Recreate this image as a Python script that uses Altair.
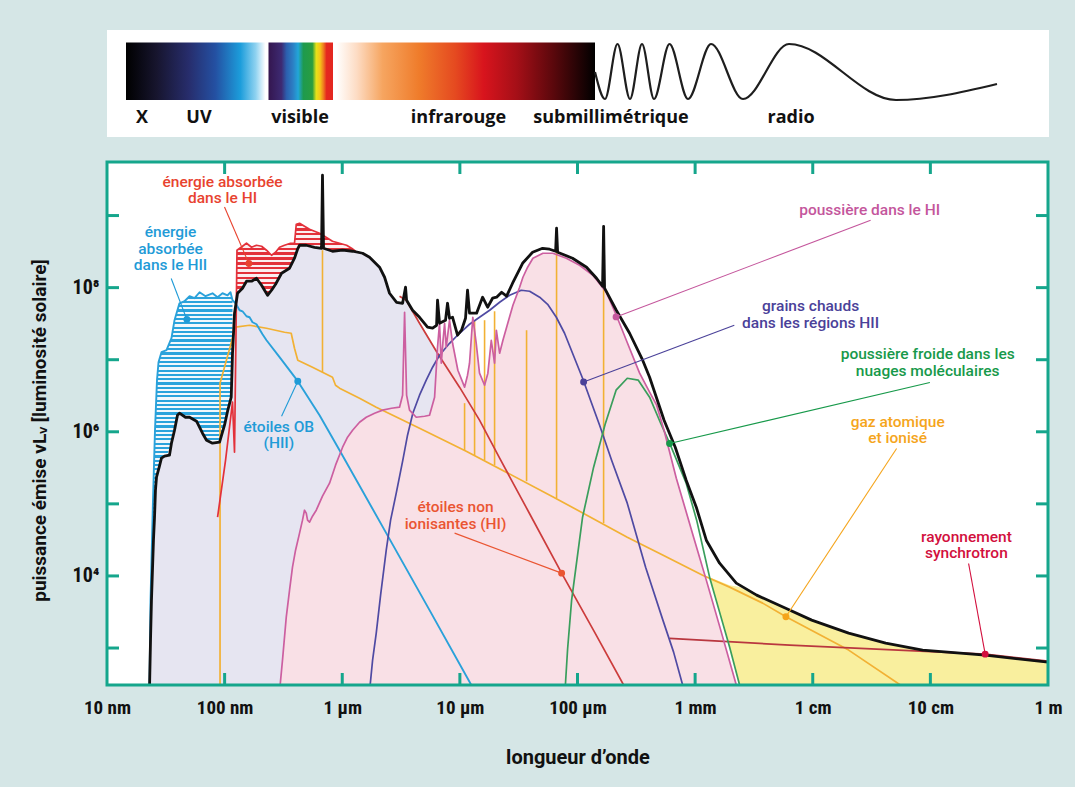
import altair as alt
import numpy as np
import pandas as pd

# ---------------------------------------------------------------------------
# DATA  (pairs: log10 wavelength [m], log10 emitted power nuL_nu [L_sun])
# ---------------------------------------------------------------------------
total = [(-7.639, 2.40), (-7.630, 3.110), (-7.622, 3.664), (-7.605, 4.496), (-7.596, 4.815),
         (-7.588, 5.190), (-7.579, 5.370), (-7.554, 5.523), (-7.537, 5.634), (-7.511, 5.662),
         (-7.469, 5.675), (-7.452, 5.842), (-7.426, 6.022), (-7.401, 6.230), (-7.384, 6.258),
         (-7.333, 6.202), (-7.298, 6.202), (-7.239, 6.147), (-7.188, 5.980), (-7.154, 5.883),
         (-7.103, 5.842), (-7.043, 5.856), (-7.001, 6.091), (-6.975, 6.286), (-6.944, 6.480),
         (-6.933, 7.090), (-6.916, 7.645), (-6.890, 7.922), (-6.848, 7.992), (-6.814, 8.089),
         (-6.771, 8.089), (-6.729, 8.130), (-6.686, 8.033), (-6.635, 7.894), (-6.601, 7.964),
         (-6.567, 8.047), (-6.516, 8.200), (-6.448, 8.269), (-6.406, 8.408), (-6.380, 8.533),
         (-6.363, 8.588), (-6.306, 8.588), (-6.236, 8.560), (-6.176, 8.546), (-6.168, 9.559),
         (-6.159, 8.546), (-6.083, 8.505), (-5.997, 8.519), (-5.912, 8.505), (-5.827, 8.477),
         (-5.768, 8.422), (-5.683, 8.283), (-5.640, 8.144), (-5.598, 7.922), (-5.538, 7.797),
         (-5.487, 7.783), (-5.462, 8.006), (-5.453, 7.825), (-5.402, 7.686), (-5.343, 7.589),
         (-5.275, 7.451), (-5.232, 7.437), (-5.198, 7.478), (-5.190, 7.825), (-5.173, 7.506),
         (-5.122, 7.548), (-5.105, 7.783), (-5.088, 7.575), (-5.062, 7.589), (-5.020, 7.340),
         (-4.986, 7.409), (-4.952, 7.575), (-4.935, 7.964), (-4.918, 7.645), (-4.858, 7.645),
         (-4.807, 7.867), (-4.764, 7.728), (-4.722, 7.853), (-4.688, 7.867), (-4.645, 7.936),
         (-4.603, 7.881), (-4.552, 8.061), (-4.467, 8.338), (-4.382, 8.491), (-4.297, 8.546),
         (-4.237, 8.533), (-4.186, 8.505), (-4.178, 8.824), (-4.169, 8.491), (-4.042, 8.408),
         (-3.923, 8.283), (-3.838, 8.130), (-3.787, 8.019), (-3.778, 8.851), (-3.770, 7.992),
         (-3.670, 7.686), (-3.557, 7.367), (-3.446, 6.993), (-3.387, 6.757), (-3.264, 6.161),
         (-3.169, 5.786), (-3.076, 5.329), (-2.990, 4.954), (-2.905, 4.496), (-2.792, 4.177),
         (-2.650, 3.900), (-2.477, 3.734), (-2.230, 3.553), (-2.009, 3.387), (-1.695, 3.207),
         (-1.380, 3.068), (-1.066, 2.971), (-0.534, 2.901), (0.0, 2.804)]

# energy absorbed in HII (blue hatched band): top = unattenuated OB light, bottom = total
hii_abs_lx = [-7.630, -7.609, -7.592, -7.575, -7.562, -7.537, -7.494, -7.452, -7.426, -7.384, -7.341,
              -7.298, -7.256, -7.213, -7.162, -7.103, -7.060, -7.018, -6.975, -6.950, -6.933]
hii_abs_top = [3.664, 5.051, 6.022, 6.716, 6.965, 7.104, 7.132, 7.298, 7.548, 7.783, 7.811,
               7.881, 7.853, 7.936, 7.881, 7.922, 7.867, 7.922, 7.894, 7.936, 7.825]
hii_abs_bot = [3.110, 4.219, 4.982, 5.398, 5.495, 5.634, 5.662, 5.842, 6.022, 6.258, 6.202,
               6.202, 6.161, 6.050, 5.883, 5.842, 5.856, 5.994, 6.286, 6.466, 7.090]

# OB stars (HII) beyond the hatched band
ob_tail = [(-6.907, 7.783), (-6.873, 7.686), (-6.848, 7.672), (-6.814, 7.603), (-6.788, 7.589),
           (-6.763, 7.520), (-6.729, 7.492), (-6.678, 7.353), (-6.644, 7.270), (-6.533, 7.035),
           (-6.378, 6.702), (-6.193, 6.230), (-6.023, 5.745), (-5.626, 4.594), (-5.258, 3.526),
           (-4.903, 2.487), (-4.839, 2.30)]

# energy absorbed in HI (red hatched band)
hi_abs_lx = [-6.895, -6.848, -6.814, -6.771, -6.729, -6.686, -6.644, -6.601, -6.567, -6.533, -6.491,
             -6.440, -6.406, -6.391, -6.363, -6.321, -6.278, -6.236, -6.193, -6.151, -6.083, -6.023,
             -5.963, -5.921, -5.887]
hi_abs_top = [8.519, 8.574, 8.616, 8.560, 8.588, 8.574, 8.519, 8.449, 8.491, 8.560, 8.588,
              8.616, 8.616, 8.879, 8.893, 8.851, 8.810, 8.782, 8.754, 8.713, 8.644, 8.616,
              8.588, 8.546, 8.505]
hi_abs_bot = [7.881, 7.992, 8.089, 8.089, 8.130, 8.033, 7.908, 7.964, 8.047, 8.158, 8.227,
              8.283, 8.408, 8.477, 8.588, 8.588, 8.574, 8.560, 8.546, 8.546, 8.505, 8.519,
              8.519, 8.505, 8.505]
hi_edge = [(-7.060, 4.815), (-6.992, 5.606), (-6.933, 6.411), (-6.916, 5.717), (-6.903, 7.409)]

# non-ionising stars (HI)
stars_hi = [(-5.513, 7.881), (-5.456, 7.825), (-5.343, 7.506), (-5.190, 7.090), (-5.003, 6.619),
            (-4.833, 6.161), (-4.662, 5.634), (-4.407, 4.863), (-4.135, 4.039), (-3.855, 3.221),
            (-3.608, 2.487), (-3.55, 2.30)]

# dust in HI
dust_hi = [(-6.533, 2.40), (-6.508, 2.832), (-6.476, 3.429), (-6.448, 3.803), (-6.423, 4.122),
           (-6.397, 4.357), (-6.363, 4.594), (-6.338, 4.774), (-6.321, 4.912), (-6.306, 4.871),
           (-6.295, 4.774), (-6.278, 4.746), (-6.253, 4.829), (-6.221, 4.912), (-6.168, 5.107),
           (-6.108, 5.287), (-6.057, 5.537), (-5.997, 5.786), (-5.955, 5.925), (-5.912, 6.022),
           (-5.853, 6.133), (-5.796, 6.202), (-5.725, 6.258), (-5.657, 6.300), (-5.581, 6.327),
           (-5.513, 6.341), (-5.487, 6.508), (-5.470, 7.658), (-5.453, 6.508), (-5.428, 6.300),
           (-5.371, 6.202), (-5.300, 6.216), (-5.258, 6.230), (-5.215, 6.480), (-5.190, 7.173),
           (-5.173, 7.506), (-5.158, 6.951), (-5.143, 7.270), (-5.130, 7.506), (-5.116, 7.173),
           (-5.088, 7.548), (-5.062, 7.228), (-5.017, 6.854), (-4.960, 6.619), (-4.935, 6.785),
           (-4.918, 6.951), (-4.890, 7.589), (-4.861, 7.228), (-4.833, 6.813), (-4.790, 6.646),
           (-4.762, 6.813), (-4.733, 7.270), (-4.705, 6.951), (-4.690, 7.409), (-4.662, 7.090),
           (-4.634, 7.270), (-4.605, 7.437), (-4.549, 7.756), (-4.492, 8.006), (-4.464, 8.144),
           (-4.424, 8.283), (-4.379, 8.408), (-4.294, 8.477), (-4.209, 8.477), (-4.095, 8.408),
           (-3.982, 8.310), (-3.869, 8.172), (-3.755, 7.936), (-3.670, 7.617), (-3.585, 7.270),
           (-3.472, 6.813), (-3.387, 6.549), (-3.327, 6.369), (-3.264, 6.022), (-3.160, 5.356),
           (-3.013, 4.538), (-2.905, 3.942), (-2.792, 3.304), (-2.650, 2.487), (-2.60, 2.30)]

# hot grains in HII regions
hot_grains = [(-5.768, 2.40), (-5.742, 2.832), (-5.711, 3.207), (-5.674, 3.734), (-5.626, 4.357),
              (-5.589, 4.774), (-5.541, 5.148), (-5.485, 5.606), (-5.445, 5.953), (-5.400, 6.258),
              (-5.343, 6.508), (-5.286, 6.716), (-5.232, 6.896), (-5.173, 7.062), (-5.088, 7.228),
              (-5.003, 7.367), (-4.918, 7.492), (-4.833, 7.589), (-4.747, 7.686), (-4.662, 7.797),
              (-4.577, 7.894), (-4.478, 7.964), (-4.407, 7.950), (-4.322, 7.867), (-4.254, 7.769),
              (-4.180, 7.589), (-4.110, 7.367), (-4.042, 7.090), (-3.957, 6.743), (-3.880, 6.397),
              (-3.812, 6.091), (-3.710, 5.606), (-3.577, 5.010), (-3.421, 4.122), (-3.274, 3.387),
              (-3.183, 2.943), (-3.106, 2.487), (-3.09, 2.30)]

# cold dust in molecular clouds
cold_dust = [(-4.110, 2.30), (-4.084, 2.99), (-4.050, 3.664), (-3.957, 4.815), (-3.863, 5.509),
             (-3.765, 6.105), (-3.672, 6.577), (-3.577, 6.743), (-3.483, 6.716), (-3.387, 6.480),
             (-3.293, 6.119), (-3.217, 5.842), (-3.076, 5.287), (-2.987, 4.774), (-2.877, 3.983),
             (-2.792, 3.498), (-2.707, 3.013), (-2.622, 2.487), (-2.61, 2.30)]

# atomic and ionised gas (continuum)
gas = [(-7.039, 2.30), (-7.039, 6.674), (-6.907, 7.451), (-6.788, 7.478), (-6.644, 7.437),
       (-6.491, 7.381), (-6.434, 7.367), (-6.406, 7.159), (-6.378, 6.993), (-6.253, 6.896),
       (-6.083, 6.757), (-6.057, 6.646), (-6.023, 6.605), (-5.853, 6.466), (-5.711, 6.341),
       (-5.343, 6.050), (-4.946, 5.731), (-4.203, 5.093), (-3.577, 4.538), (-3.276, 4.289),
       (-2.936, 4.011), (-2.707, 3.845), (-2.426, 3.623), (-2.224, 3.429), (-1.695, 2.971),
       (-1.255, 2.487), (-1.22, 2.30)]
# gas emission lines
gas_lines_lx = [-6.168, -4.960, -4.875, -4.790, -4.705, -4.433, -4.178, -3.778]
gas_lines_top = [8.519, 6.397, 7.548, 7.548, 7.672, 7.409, 8.505, 7.992]
gas_lines_bot = [6.827, 5.745, 5.675, 5.606, 5.537, 5.315, 5.079, 4.732]

# gas + synchrotron band (yellow)
radio_lx = [-2.877, -2.792, -2.707, -2.622, -2.477, -2.230, -2.009, -1.695, -1.380, -1.066, -0.534, 0.0]
radio_top = [3.983, 3.928, 3.872, 3.845, 3.734, 3.553, 3.387, 3.207, 3.068, 2.971, 2.901, 2.804]
radio_bot = [3.983, 3.498, 3.013, 2.487, 2.487, 2.487, 2.487, 2.487, 2.487, 2.487, 2.487, 2.487]

# synchrotron radiation
synchrotron = [(-3.217, 3.133), (-2.196, 3.040), (-0.534, 2.915), (0.0, 2.818)]

# axis tick labels
x_tick_labels = ["10 nm", "100 nm", "1 \u03bcm", "10 \u03bcm", "100 \u03bcm", "1 mm", "1 cm", "10 cm", "1 m"]
y_tick_labels = ["10\u2074", "10\u2075", "10\u2076", "10\u2077", "10\u2078"]

# annotations: text lines
ann_keys = ["hi_abs", "hii_abs", "ob", "stars", "dust", "grains", "cold", "gas", "sync"]
ann_lines = [["énergie absorbée", "dans le HI"],
             ["énergie", "absorbée", "dans le HII"],
             ["étoiles OB", "(HII)"],
             ["étoiles non", "ionisantes (HI)"],
             ["poussière dans le HI"],
             ["grains chauds", "dans les régions HII"],
             ["poussière froide dans les", "nuages moléculaires"],
             ["gaz atomique", "et ionisé"],
             ["rayonnement", "synchrotron"]]
# annotation anchors (log10 coords): label, leader start, marked point
ann_label_at = [(-7.018, 9.466), (-7.460, 8.768), (-6.539, 6.068), (-5.037, 4.954), (-1.516, 9.074),
                (-2.018, 7.742), (-1.023, 7.076), (-1.278, 6.137), (-0.694, 4.542)]
ann_leader_from = [(-7.001, 9.119), (-7.454, 8.126), (-6.516, 6.216), (-5.045, 4.594), (-1.508, 8.935),
                   (-2.667, 7.478), (-1.004, 6.684), (-1.287, 5.768), (-0.675, 4.173)]
ann_point = [(-6.794, 8.334), (-7.321, 7.558), (-6.378, 6.702), (-4.135, 4.039), (-3.672, 7.594),
             (-3.948, 6.692), (-3.217, 5.838), (-2.228, 3.433), (-0.534, 2.915)]

# banner (decoration, image pixel coordinates)
band_labels = ["X", "UV", "visible", "infrarouge", "submillimétrique", "radio"]
band_label_x = [142, 199, 300, 458.5, 611, 791]
wave_x = [595, 605, 617.5, 630, 642, 654, 669.5, 688, 711, 743, 789, 896, 997]
wave_y = [72, 99, 44, 99, 44, 99, 44, 99, 44, 99, 44, 100, 84]

# ---------------------------------------------------------------------------
# STYLE / LAYOUT
# ---------------------------------------------------------------------------
W, H = 941, 523
PAD = {"left": 107, "top": 162, "right": 27, "bottom": 102}
LY_MIN, LY_MAX = 2.487, 9.743
YMIN = 10 ** LY_MIN
TEAL = "#15a68c"
BG = "#d5e6e6"
AXF = "Roboto Condensed, Roboto, sans-serif"
TTF = "Roboto, sans-serif"
ANF = "Roboto, sans-serif"
C = {"hi_abs": "#e8432f", "hii_abs": "#1f9bd7", "ob": "#1f9bd7", "stars": "#ea5532",
     "dust": "#c4569c", "grains": "#4a4199", "cold": "#17994a", "gas": "#f5a51c", "sync": "#d20f3d"}

xs = alt.Scale(type="log", domain=[1e-8, 1.0], nice=False)
ys = alt.Scale(type="log", domain=[YMIN, 10 ** LY_MAX], nice=False)

x_expr = "[" + ",".join("'%s'" % s for s in x_tick_labels) + "][round(log(datum.value)/LN10)+8]"
y_expr = "[" + ",".join("'%s'" % s for s in y_tick_labels) + "][round(log(datum.value)/LN10)-4]"

XAX = alt.Axis(values=[10.0 ** k for k in range(-8, 1)], labelExpr=x_expr, tickSize=0, domain=False,
               grid=False, labelFont=AXF, labelFontSize=19, labelFontWeight="bold", labelColor="#111",
               labelPadding=22, labelBaseline="middle", labelFlush=False, labelOverlap=False,
               labelBound=False, title="longueur d\u2019onde", titleFont=TTF, titleFontSize=20,
               titleFontWeight="bold", titleColor="#111", titleY=72, titleBaseline="middle")
YAX = alt.Axis(values=[1e4, 1e6, 1e8], labelExpr=y_expr, tickSize=0, domain=False, grid=False,
               labelFont=AXF, labelFontSize=20, labelFontWeight="bold", labelColor="#111",
               labelPadding=8, labelOverlap=False, labelBound=False,
               title="puissance émise \u03bdL\u1d65 [luminosité solaire]", titleFont=TTF,
               titleFontSize=19, titleFontWeight="bold", titleColor="#111",
               titleX=-68, titleY=268, titleAlign="center", titleBaseline="middle")


def X(f):
    return alt.X(f + ":Q", scale=xs, axis=XAX)


def Y(f):
    return alt.Y(f + ":Q", scale=ys, axis=YAX)


def pairs_df(pairs):
    a = np.array(pairs, dtype=float)
    return pd.DataFrame({"lam": 10 ** a[:, 0], "L": 10 ** a[:, 1], "i": np.arange(len(a))})


def band_df(lx, top, bot):
    return pd.DataFrame({"lam": 10 ** np.array(lx), "top": 10 ** np.array(top), "bot": 10 ** np.array(bot)})


def stripes(c_line, c_gap, n, frac=0.5):
    stops = []
    for k in range(n):
        a, b, c = k / n, (k + frac) / n, (k + 1) / n
        stops += [alt.GradientStop(color=c_line, offset=a), alt.GradientStop(color=c_line, offset=b),
                  alt.GradientStop(color=c_gap, offset=b), alt.GradientStop(color=c_gap, offset=c)]
    return alt.LinearGradient(gradient="linear", stops=stops, x1=0, x2=0, y1=0, y2=1)


def line(pairs, color, width):
    return alt.Chart(pairs_df(pairs)).mark_line(color=color, strokeWidth=width, clip=True,
                                                strokeJoin="round").encode(
        x=X("lam"), y=Y("L"), order="i:Q")


# ---------------------------------------------------------------------------
# MAIN PLOT LAYERS
# ---------------------------------------------------------------------------
lav_pairs = [p for p in total if p[0] < -5.47] + [p for p in stars_hi if p[0] >= -5.47]
lav_df = pairs_df(lav_pairs)
lav_df["base"] = YMIN
lavender = alt.Chart(lav_df).mark_area(color="#e6e5f1", clip=True).encode(
    x=X("lam"), y=Y("L"), y2=alt.Y2("base"))

dust_df = pairs_df(dust_hi)
dust_df["base"] = YMIN
pink_area = alt.Chart(dust_df).mark_area(color="#f9e0e6", clip=True).encode(
    x=X("lam"), y=Y("L"), y2=alt.Y2("base"))

yellow_area = alt.Chart(band_df(radio_lx, radio_top, radio_bot)).mark_area(
    color="#f9ef9e", clip=True).encode(x=X("lam"), y=Y("top"), y2=alt.Y2("bot"))

hii_hatch = alt.Chart(band_df(hii_abs_lx, hii_abs_top, hii_abs_bot)).mark_area(
    color=stripes("#2ba3dc", "#f2f8fc", 81), clip=True).encode(x=X("lam"), y=Y("top"), y2=alt.Y2("bot"))

hi_hatch = alt.Chart(band_df(hi_abs_lx, hi_abs_top, hi_abs_bot)).mark_area(
    color=stripes("#e3313a", "#fbeef0", 15), clip=True).encode(x=X("lam"), y=Y("top"), y2=alt.Y2("bot"))

gas_rules = alt.Chart(band_df(gas_lines_lx, gas_lines_top, gas_lines_bot)).mark_rule(
    color="#f2b134", strokeWidth=1.6, clip=True).encode(x=X("lam"), y=Y("top"), y2=alt.Y2("bot"))

ob_line = [(-7.639, 2.40)] + list(zip(hii_abs_lx, hii_abs_top)) + ob_tail
hi_line = hi_edge + list(zip(hi_abs_lx, hi_abs_top))

layers = [
    lavender, pink_area, yellow_area, hii_hatch, hi_hatch, gas_rules,
    line(gas, "#f2b134", 1.7),
    line(synchrotron, "#b9373f", 1.7),
    line(stars_hi, "#cc3c3c", 1.7),
    line(ob_line, "#2aa1da", 1.9),
    line(hi_line, "#e3313a", 1.7),
    line(hot_grains, "#4f4aa3", 1.7),
    line(cold_dust, "#3a9e5c", 1.7),
    line(dust_hi, "#cc5fa0", 1.7),
    line(total, "#111111", 2.8),
]

# annotations
lead = pd.DataFrame({
    "x1": [10 ** p[0] for p in ann_leader_from], "y1": [10 ** p[1] for p in ann_leader_from],
    "x2": [10 ** p[0] for p in ann_point], "y2": [10 ** p[1] for p in ann_point],
    "c": [C[k] for k in ann_keys]})
layers.append(alt.Chart(lead).mark_rule(strokeWidth=1.1).encode(
    x=X("x1"), y=Y("y1"), x2=alt.X2("x2"), y2=alt.Y2("y2"), color=alt.Color("c:N", scale=None)))
layers.append(alt.Chart(lead).mark_point(filled=True, size=48, opacity=1).encode(
    x=X("x2"), y=Y("y2"), color=alt.Color("c:N", scale=None)))

rows = []
for key, lines_, (lx, ly) in zip(ann_keys, ann_lines, ann_label_at):
    for k, t in enumerate(lines_):
        rows.append({"t": t, "k": k, "x": 10 ** lx, "y": 10 ** ly, "c": C[key]})
lab = pd.DataFrame(rows)
for k in range(3):
    layers.append(alt.Chart(lab).transform_filter(alt.datum.k == k).mark_text(
        font=ANF, fontSize=15.5, fontWeight=500, align="center", baseline="middle", dy=16.5 * k).encode(
        x=X("x"), y=Y("y"), text="t:N", color=alt.Color("c:N", scale=None)))

# inward frame ticks
xt = pd.DataFrame({"v": [10.0 ** k for k in range(-7, 0)]})
yt = pd.DataFrame({"v": [10.0 ** k for k in range(3, 10)]})
TL = 12
layers.append(alt.Chart(xt).mark_rule(color=TEAL, strokeWidth=3).encode(
    x=X("v"), y=alt.value(H), y2=alt.value(H - TL)))
layers.append(alt.Chart(xt).mark_rule(color=TEAL, strokeWidth=3).encode(
    x=X("v"), y=alt.value(0), y2=alt.value(TL)))
layers.append(alt.Chart(yt).mark_rule(color=TEAL, strokeWidth=3).encode(
    y=Y("v"), x=alt.value(0), x2=alt.value(TL)))
layers.append(alt.Chart(yt).mark_rule(color=TEAL, strokeWidth=3).encode(
    y=Y("v"), x=alt.value(W), x2=alt.value(W - TL)))
# frame
layers.append(alt.Chart(pd.DataFrame({"a": [0]})).mark_rect(
    fillOpacity=0, stroke=TEAL, strokeWidth=3).encode(
    x=alt.value(0), x2=alt.value(W), y=alt.value(0), y2=alt.value(H)))

main = alt.layer(*layers)

# ---------------------------------------------------------------------------
# BANNER (electromagnetic spectrum strip), pixel-identity scales
# ---------------------------------------------------------------------------
bx = alt.Scale(domain=[0, 1075], range=[-PAD["left"], 1075 - PAD["left"]], nice=False, zero=False)
by = alt.Scale(domain=[0, 787], range=[-PAD["top"], 787 - PAD["top"]], nice=False, zero=False)


def BX(f):
    return alt.X(f + ":Q", scale=bx, axis=None)


def BY(f):
    return alt.Y(f + ":Q", scale=by, axis=None)


def hgrad(stops):
    return alt.LinearGradient(gradient="linear",
                              stops=[alt.GradientStop(color=c, offset=o) for o, c in stops],
                              x1=0, x2=1, y1=0, y2=0)


def brect(x1, x2, y1, y2, color):
    return alt.Chart(pd.DataFrame({"x1": [x1], "x2": [x2], "y1": [y1], "y2": [y2]})).mark_rect(
        color=color).encode(x=BX("x1"), x2=alt.X2("x2"), y=BY("y1"), y2=alt.Y2("y2"))


uv_grad = hgrad([(0, "#000000"), (0.22, "#17152e"), (0.45, "#272d6c"), (0.64, "#2450a2"),
                 (0.82, "#1c9ddb"), (0.93, "#8fd2f0"), (1.0, "#ffffff")])
vis_grad = hgrad([(0, "#34164f"), (0.2, "#3d2a72"), (0.28, "#2c5fae"), (0.38, "#2c7fc4"),
                  (0.46, "#22a6d9"), (0.54, "#1e9a4e"), (0.68, "#2a9d3f"), (0.74, "#e6e21a"),
                  (0.8, "#f5c518"), (0.85, "#ef7f1f"), (0.9, "#e5291f"), (1.0, "#e3261f")])
ir_grad = hgrad([(0, "#ffffff"), (0.08, "#fddcc4"), (0.18, "#f6a560"), (0.32, "#ef7c2b"),
                 (0.46, "#e54a20"), (0.57, "#d8141d"), (0.70, "#a40f17"), (0.84, "#5a080c"),
                 (1.0, "#000000")])

banner_layers = [
    brect(107, 1049, 30, 137, "white"),
    brect(126, 265.5, 42.5, 100, uv_grad),
    brect(268.5, 333, 42.5, 100, vis_grad),
    brect(336, 595, 42.5, 100, ir_grad),
    alt.Chart(pd.DataFrame({"x": wave_x, "y": wave_y})).mark_line(
        color="#1e1e1e", strokeWidth=2.2, interpolate="monotone").encode(x=BX("x"), y=BY("y")),
    alt.Chart(pd.DataFrame({"x": band_label_x, "y": [118] * len(band_labels), "t": band_labels})).mark_text(
        font="Open Sans, Roboto, sans-serif", fontSize=18, fontWeight="bold", color="#111",
        align="center", baseline="middle").encode(x=BX("x"), y=BY("y"), text="t:N"),
]
banner = alt.layer(*banner_layers)

chart = alt.layer(main, banner).resolve_scale(x="independent", y="independent").properties(
    width=W, height=H, autosize=alt.AutoSizeParams(type="none"), padding=PAD
).configure(background=BG).configure_view(fill="white", stroke="transparent")

chart.save("out.html", embed_options={"renderer": "svg", "actions": False})
